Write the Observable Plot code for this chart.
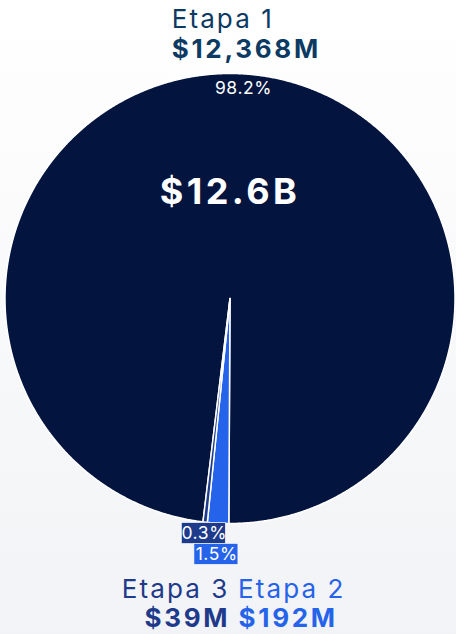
<!DOCTYPE html>
<html>
<head>
<meta charset="utf-8">
<script src="https://cdn.jsdelivr.net/npm/d3@7"></script>
<script src="https://cdn.jsdelivr.net/npm/@observablehq/plot@0.6"></script>
<style>
  html, body { margin: 0; padding: 0; }
  body { width: 456px; height: 634px; background: linear-gradient(#ffffff, #f2f3f6); font-family: Inter, "Noto Sans", sans-serif; overflow: hidden; }
  svg { display: block; background: transparent !important; }
  svg g[font-size="26"] text { letter-spacing: 2.1px; }
  svg g[font-size="26"][font-weight="700"] text { letter-spacing: 2.7px; }
  svg g[font-size="36"] text { letter-spacing: 3.4px; }
  svg g[font-size="17.5"] text { letter-spacing: 0.6px; }
</style>
</head>
<body>
<div id="chart"></div>
<script>
const categories = ["Etapa 1", "Etapa 2", "Etapa 3"];
const values = [12368, 192, 39];          // millones USD
const valueLabels = ["$12,368M", "$192M", "$39M"];
const totalLabel = "$12.6B";
const colors = ["#03153f", "#2563eb", "#1e3a8a"];
const labelColors = ["#0c3a62", "#2563eb", "#1e3a8a"];

const total = d3.sum(values);
const start = -173.1 * Math.PI / 180;
const arcs = d3.pie().sort(null).startAngle(start).endAngle(start + 2 * Math.PI)(values);

// polygons (unit circle, angle measured clockwise from top)
const poly = [];
arcs.forEach((a, i) => {
  const n = Math.max(4, Math.ceil((a.endAngle - a.startAngle) / 0.005));
  poly.push({name: categories[i], x: 0, y: 0});
  for (let k = 0; k <= n; k++) {
    const t = a.startAngle + (a.endAngle - a.startAngle) * k / n;
    poly.push({name: categories[i], x: Math.sin(t), y: Math.cos(t)});
  }
});

// percentage labels
const smallRank = categories.map((c, i) => i)
  .filter(i => values[i] / total < 0.05)
  .sort((a, b) => values[a] - values[b]);
const pct = arcs.map((a, i) => {
  const mid = (a.startAngle + a.endAngle) / 2;
  const small = smallRank.indexOf(i);
  const r = small < 0 ? 0.935 : 1.051 + 0.088 * small;
  return {name: categories[i], text: (values[i] / total * 100).toFixed(1) + "%", x: r * Math.sin(mid), y: r * Math.cos(mid), small: small >= 0, order: small};
});
const boxes = pct.filter(d => d.small).sort((a, b) => a.order - b.order);
const px = 1 / 225;
const mid0 = Math.sin((arcs[0].startAngle + arcs[0].endAngle) / 2) * 0.935;

const chart = Plot.plot({
  width: 456,
  height: 634,
  marginLeft: 4.5,
  marginRight: 1.5,
  marginTop: 73,
  marginBottom: 111,
  x: {domain: [-1, 1], axis: null},
  y: {domain: [-1, 1], axis: null},
  color: {domain: categories, range: colors},
  style: {fontFamily: "Inter, 'Noto Sans', sans-serif", background: "transparent"},
  marks: [
    Plot.line(poly, {x: "x", y: "y", z: "name", fill: "name", stroke: "white", strokeWidth: 1.5, curve: "linear-closed"}),
    Plot.rect(boxes, {x1: d => d.x - 22 * px, x2: d => d.x + 22 * px, y1: d => d.y - 10.5 * px, y2: d => d.y + 10.5 * px, fill: "name", stroke: "white", strokeWidth: 0.8, strokeOpacity: 0.8}),
    Plot.text(pct, {x: "x", y: "y", text: "text", fill: "white", fontSize: 17.5, lineAnchor: "middle", dx: 0.3}),
    Plot.text([totalLabel], {x: [0], y: [0], text: d => d, fill: "white", fontSize: 36, fontWeight: 700, dy: -106, lineAnchor: "middle"}),
    // category labels
    Plot.text([0], {x: () => mid0, y: () => 1, text: i => categories[i], fill: labelColors[0], fontSize: 26, textAnchor: "start", lineAnchor: "bottom", dx: -71.5, dy: -46}),
    Plot.text([0], {x: () => mid0, y: () => 1, text: i => valueLabels[i], fill: labelColors[0], fontSize: 26, fontWeight: 700, textAnchor: "start", lineAnchor: "bottom", dx: -71.5, dy: -16}),
    Plot.text([2], {x: () => 0, y: () => -1, text: i => categories[i], fill: labelColors[2], fontSize: 26, textAnchor: "end", lineAnchor: "bottom", dx: -0.5, dy: 74}),
    Plot.text([2], {x: () => 0, y: () => -1, text: i => valueLabels[i], fill: labelColors[2], fontSize: 26, fontWeight: 700, textAnchor: "end", lineAnchor: "bottom", dx: 0.2, dy: 103}),
    Plot.text([1], {x: () => 0, y: () => -1, text: i => categories[i], fill: labelColors[1], fontSize: 26, textAnchor: "start", lineAnchor: "bottom", dx: 8, dy: 74}),
    Plot.text([1], {x: () => 0, y: () => -1, text: i => valueLabels[i], fill: labelColors[1], fontSize: 26, fontWeight: 700, textAnchor: "start", lineAnchor: "bottom", dx: 8.5, dy: 103})
  ]
});
document.getElementById("chart").append(chart);
</script>
</body>
</html>
